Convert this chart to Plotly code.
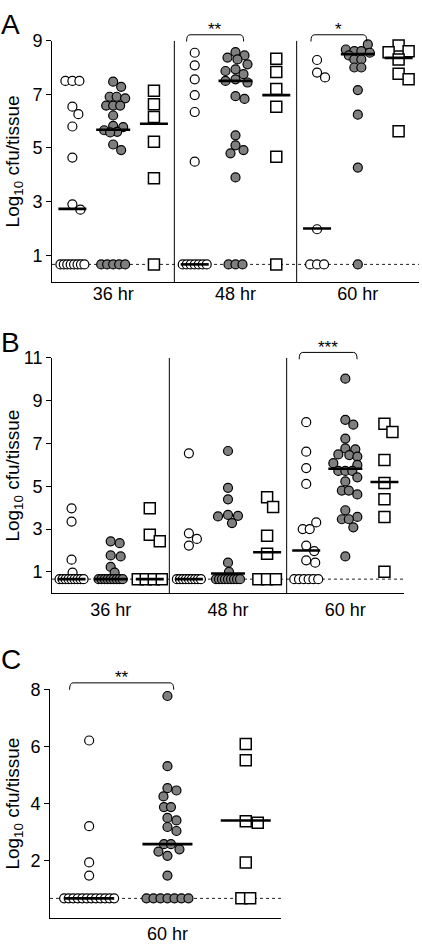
import math
import numpy as np
import plotly.graph_objects as go

W, H = 422, 944

# ---------------- data ----------------
HOURS = ["36 hr", "48 hr", "60 hr"]
HOURS_C = ["60 hr"]
LOD_AB = 0.66
LOD_C = 0.68

# Panel A  (open circles / grey circles / squares)
A_OPEN_36 = [7.5, 7.5, 7.5, 6.54, 6.26, 5.8, 4.64, 2.9, 2.7,
             0.66, 0.66, 0.66, 0.66, 0.66, 0.66, 0.66, 0.66]
A_GRAY_36 = [7.47, 7.28, 6.91, 6.91, 6.85, 6.58, 6.58, 6.58, 6.21, 5.82, 5.78,
             5.66, 5.6, 5.58, 5.13, 4.92, 0.66, 0.66, 0.66, 0.66, 0.66]
A_SQ_36 = [7.13, 6.63, 6.15, 5.23, 3.87, 0.66]
A_OPEN_48 = [8.55, 8.08, 7.56, 6.97, 6.34, 4.49,
             0.66, 0.66, 0.66, 0.66, 0.66, 0.66, 0.66]
A_GRAY_48 = [8.57, 8.45, 8.37, 8.3, 8.12, 7.93, 7.87, 7.75, 7.56, 7.5, 7.44,
             6.93, 6.83, 5.47, 5.1, 4.92, 4.8, 3.9, 0.66, 0.66, 0.66]
A_SQ_48 = [8.33, 7.83, 7.2, 6.54, 4.67, 0.66]
A_OPEN_60 = [8.28, 7.81, 7.63, 1.97, 0.66, 0.66, 0.66]
A_GRAY_60 = [8.86, 8.67, 8.61, 8.61, 8.55, 8.45, 8.3, 8.3, 8.0, 8.0,
             7.16, 6.24, 4.27, 0.66]
A_SQ_60 = [8.82, 8.61, 8.57, 8.3, 7.77, 7.56, 5.62]
A_MEDIANS = [[2.73, 5.68, 5.9], [0.66, 7.5, 6.97], [2.0, 8.5, 8.36]]

# Panel B
B_OPEN_36 = [3.97, 3.35, 1.57, 0.96,
             0.66, 0.66, 0.66, 0.66, 0.66, 0.66, 0.66, 0.66, 0.66]
B_GRAY_36 = [2.43, 2.34, 1.77, 1.72, 1.23, 0.96,
             0.66, 0.66, 0.66, 0.66, 0.66, 0.66, 0.66, 0.66, 0.66]
B_SQ_36 = [3.97, 2.74, 2.43, 0.66, 0.66, 0.66, 0.66]
B_OPEN_48 = [6.54, 2.8, 2.54, 2.23,
             0.66, 0.66, 0.66, 0.66, 0.66, 0.66, 0.66, 0.66, 0.66]
B_GRAY_48 = [6.65, 4.93, 4.39, 3.66, 3.62, 3.59, 3.28, 1.43, 1.0,
             0.66, 0.66, 0.66, 0.66, 0.66, 0.66, 0.66, 0.66, 0.66]
B_SQ_48 = [4.49, 4.03, 2.69, 1.85, 0.66, 0.66, 0.66]
B_OPEN_60 = [8.0, 6.62, 5.85, 5.11, 3.31, 3.0, 3.0, 2.23, 1.97, 1.54, 1.43,
             0.66, 0.66, 0.66, 0.66, 0.66, 0.66]
B_GRAY_60 = [10.03, 8.11, 7.88, 7.23, 6.77, 6.73, 6.49, 6.46, 6.39, 6.08, 6.0,
             5.72, 5.72, 5.72, 5.42, 5.23, 4.8, 4.8, 4.62, 3.88, 3.57, 3.46,
             3.46, 3.08, 1.72]
B_SQ_60 = [7.93, 7.54, 6.23, 5.16, 4.39, 3.57, 1.0]
B_MEDIANS = [[0.66, 0.66, 0.66], [0.66, 0.92, 1.92], [2.0, 5.82, 5.2]]

# Panel C
C_OPEN = [6.21, 3.21, 1.94, 1.48,
          0.68, 0.68, 0.68, 0.68, 0.68, 0.68, 0.68, 0.68, 0.68, 0.68, 0.68, 0.68]
C_GRAY = [7.77, 5.31, 4.54, 4.46, 4.25, 3.88, 3.88, 3.5, 3.41, 3.18, 3.04,
          2.58, 2.58, 2.4, 2.32, 2.17, 1.48,
          0.68, 0.68, 0.68, 0.68, 0.68, 0.68, 0.68]
C_SQ = [6.09, 5.52, 3.38, 3.33, 1.94, 0.68, 0.68]
C_MEDIANS = [0.68, 2.58, 3.41]

# ---------------- layout constants ----------------
FONT = "Liberation Sans, Arial, Helvetica, sans-serif"
PANELS = {
    "A": dict(xpx=(52, 419), ypx=(275, 31), xr=(-0.5, 8.5), yr=(0, 9), lab_off=-5,
              ticks=[1, 3, 5, 7, 9], ax="", tie_half=12, sw_half=12, med_half=(14, 17, 14)),
    "B": dict(xpx=(52, 404), ypx=(589.5, 351.7), xr=(-0.5, 8.5), yr=(0, 11), lab_off=0,
              ticks=[1, 3, 5, 7, 9, 11], ax="2", tie_half=12, sw_half=12, med_half=(14, 17, 14)),
    "C": dict(xpx=(50, 281), ypx=(917.5, 686.7), xr=(-0.5, 2.45), yr=(0, 8), lab_off=0,
              ticks=[2, 4, 6, 8], ax="3", tie_half=25, sw_half=14, med_half=(25, 25, 25)),
}

STYLE = [
    dict(symbol="circle", size=9, color="white", line=dict(color="black", width=1.2)),
    dict(symbol="circle", size=9, color="#7f7f7f", line=dict(color="black", width=1.2)),
    dict(symbol="square", size=11, color="white", line=dict(color="black", width=1.5)),
]
VIS = [10, 10, 12.5]


def ppu(p):
    c = PANELS[p]
    px = (c["xpx"][1] - c["xpx"][0]) / (c["xr"][1] - c["xr"][0])
    py = (c["ypx"][0] - c["ypx"][1]) / (c["yr"][1] - c["yr"][0])
    return px, py


def to_paper(p, x, y):
    c = PANELS[p]
    fx = (x - c["xr"][0]) / (c["xr"][1] - c["xr"][0])
    fy = (y - c["yr"][0]) / (c["yr"][1] - c["yr"][0])
    xp = c["xpx"][0] + fx * (c["xpx"][1] - c["xpx"][0])
    yp = c["ypx"][0] - fy * (c["ypx"][0] - c["ypx"][1])
    return xp / W, 1 - yp / H


def swarm(vals, ppy, d, tie_half, sw_half):
    n = len(vals)
    off = [None] * n
    placed = []
    groups = {}
    for i, v in enumerate(vals):
        groups.setdefault(v, []).append(i)
    for v, idx in groups.items():
        if len(idx) > 1:
            m = len(idx)
            sp = min(0.7 * d, 2 * tie_half / (m - 1))
            for k, i in enumerate(idx):
                off[i] = (k - (m - 1) / 2) * sp
                placed.append((off[i], v * ppy))
    rest = sorted([i for i in range(n) if off[i] is None], key=lambda i: -vals[i])
    cands = sorted(np.arange(-sw_half, sw_half + 0.01, 1.0), key=lambda c: (abs(c), -c))
    for i in rest:
        y = vals[i] * ppy
        chosen, best, bestd = None, 0.0, -1
        for c in cands:
            md = min((math.hypot(c - a, y - b) for a, b in placed), default=1e9)
            if md >= 0.92 * d:
                chosen = c
                break
            if md > bestd:
                best, bestd = c, md
        if chosen is None:
            chosen = best
        off[i] = float(chosen)
        placed.append((chosen, y))
    return off


fig = go.Figure()


def add_column(p, center, vals, kind):
    c = PANELS[p]
    ppx, ppy = ppu(p)
    offs = swarm(vals, ppy, VIS[kind], c["tie_half"], c["sw_half"])
    xs = [center + o / ppx for o in offs]
    fig.add_trace(go.Scatter(
        x=xs, y=vals, mode="markers", marker=STYLE[kind], cliponaxis=False,
        xaxis="x" + c["ax"], yaxis="y" + c["ax"], showlegend=False, hoverinfo="skip"))


def add_median(p, center, m, kind):
    c = PANELS[p]
    ppx, _ = ppu(p)
    hw = c["med_half"][kind] / ppx
    fig.add_trace(go.Scatter(
        x=[center - hw, center + hw], y=[m, m], mode="lines",
        line=dict(color="black", width=2.6), cliponaxis=False,
        xaxis="x" + c["ax"], yaxis="y" + c["ax"], showlegend=False, hoverinfo="skip"))


A_COLS = [[A_OPEN_36, A_GRAY_36, A_SQ_36], [A_OPEN_48, A_GRAY_48, A_SQ_48],
          [A_OPEN_60, A_GRAY_60, A_SQ_60]]
B_COLS = [[B_OPEN_36, B_GRAY_36, B_SQ_36], [B_OPEN_48, B_GRAY_48, B_SQ_48],
          [B_OPEN_60, B_GRAY_60, B_SQ_60]]

for p, cols, meds in (("A", A_COLS, A_MEDIANS), ("B", B_COLS, B_MEDIANS)):
    for g in range(3):
        for k in range(3):
            add_column(p, 3 * g + k, cols[g][k], k)
    for g in range(3):
        for k in range(3):
            add_median(p, 3 * g + k, meds[g][k], k)

for k, vals in enumerate([C_OPEN, C_GRAY, C_SQ]):
    add_column("C", k, vals, k)
for k in range(3):
    add_median("C", k, C_MEDIANS[k], k)

# ---------------- axes ----------------
layout = dict(width=W, height=H, margin=dict(l=0, r=0, t=0, b=0),
              paper_bgcolor="white", plot_bgcolor="white",
              font=dict(family=FONT, color="black"), showlegend=False)
for p, c in PANELS.items():
    xd = [c["xpx"][0] / W, c["xpx"][1] / W]
    yd = [1 - c["ypx"][0] / H, 1 - c["ypx"][1] / H]
    if p == "C":
        tv, tt = [1], HOURS_C
    else:
        tv, tt = [1, 4, 7], HOURS
    layout["xaxis" + c["ax"]] = dict(
        domain=xd, range=list(c["xr"]), anchor="y" + c["ax"], showgrid=False,
        zeroline=False, showline=True, linecolor="black", linewidth=1,
        ticks="", tickvals=tv, ticktext=tt, tickfont=dict(size=18, family=FONT),
        ticklabelstandoff=c["lab_off"], fixedrange=True)
    layout["yaxis" + c["ax"]] = dict(
        domain=yd, range=list(c["yr"]), anchor="x" + c["ax"], showgrid=False,
        zeroline=False, showline=True, linecolor="black", linewidth=1,
        ticks="outside", ticklen=5, tickwidth=1, tickcolor="black",
        tickvals=c["ticks"], tickfont=dict(size=18, family=FONT), fixedrange=True)
fig.update_layout(**layout)

# ---------------- shapes: LOD lines, separators, brackets ----------------
shapes = []
for p, c, lod in (("A", PANELS["A"], LOD_AB), ("B", PANELS["B"], LOD_AB), ("C", PANELS["C"], LOD_C)):
    shapes.append(dict(type="line", xref="x" + c["ax"], yref="y" + c["ax"],
                       x0=c["xr"][0], x1=c["xr"][1], y0=lod, y1=lod, layer="below",
                       line=dict(color="#222222", width=1, dash="3px,3px")))
for p in ("A", "B"):
    c = PANELS[p]
    for xs in (2.5, 5.5):
        shapes.append(dict(type="line", xref="x" + c["ax"], yref="y" + c["ax"],
                           x0=xs, x1=xs, y0=c["yr"][0], y1=c["yr"][1], layer="below",
                           line=dict(color="black", width=1)))

BRACKETS = [  # panel, x0, x1, y_top, y_end, stars, star_x, star_y
    ("A", 2.8, 4.2, 9.22, 8.97, "**", 3.5, 9.4),
    ("A", 5.85, 7.22, 9.22, 8.97, "*", 6.53, 9.4),
    ("B", 5.82, 7.3, 11.26, 10.94, "***", 6.56, 11.48),
    ("C", -0.25, 1.08, 8.23, 7.99, "**", 0.42, 8.42),
]
annotations = []
for p, x0, x1, yt, ye, stars, sx, sy in BRACKETS:
    ax0, ayt = to_paper(p, x0, yt)
    ax1, aye = to_paper(p, x1, ye)
    dx = 3.5 / W
    path = (f"M {ax0},{aye} Q {ax0},{ayt} {ax0 + dx},{ayt} "
            f"L {ax1 - dx},{ayt} Q {ax1},{ayt} {ax1},{aye}")
    shapes.append(dict(type="path", xref="paper", yref="paper", path=path,
                       line=dict(color="black", width=1)))
    px_, py_ = to_paper(p, sx, sy)
    annotations.append(dict(xref="paper", yref="paper", x=px_, y=py_, text=stars,
                            showarrow=False, xanchor="center", yanchor="middle",
                            font=dict(size=17, family=FONT, color="black")))

# panel letters and y titles
for letter, ly in (("A", 15), ("B", 336), ("C", 656)):
    annotations.append(dict(xref="paper", yref="paper", x=-1 / W, y=1 - ly / H,
                            text=letter, showarrow=False, xanchor="left",
                            yanchor="middle", font=dict(size=28, family=FONT, color="black")))
for p in ("A", "B", "C"):
    c = PANELS[p]
    yc = (c["ypx"][0] + c["ypx"][1]) / 2
    annotations.append(dict(xref="paper", yref="paper", x=14 / W, y=1 - yc / H,
                            text="Log<sub>10</sub> cfu/tissue", textangle=-90,
                            showarrow=False, xanchor="center", yanchor="middle",
                            font=dict(size=19, family=FONT, color="black")))

fig.update_layout(shapes=shapes, annotations=annotations)
POST = ("document.documentElement.style.margin='0';document.body.style.margin='0';"
        "document.body.style.padding='0';document.documentElement.style.overflow='hidden';"
        "var gd=document.getElementById('{plot_id}');gd.style.position='fixed';"
        "gd.style.top='0px';gd.style.left='0px';")
fig.write_html("out.html", config={"displayModeBar": False}, post_script=POST)
